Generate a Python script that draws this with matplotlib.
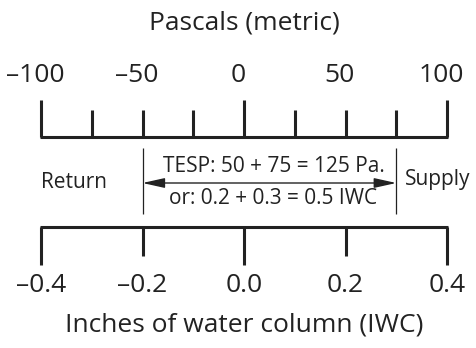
import matplotlib
matplotlib.use("Agg")
import matplotlib.pyplot as plt

# Pascal scale (top)
pa_ticks = [-100, -75, -50, -25, 0, 25, 50, 75, 100]
pa_major = [-100, 0, 100]
pa_labels = [-100, -50, 0, 50, 100]

# IWC scale (bottom)
iwc_ticks = [-0.4, -0.2, 0.0, 0.2, 0.4]
iwc_major = [-0.4, 0.0, 0.4]

# static pressure readings
return_pa = -50
supply_pa = 75
PA_PER_IWC = 250

plt.rcParams['font.family'] = ['Open Sans', 'DejaVu Sans']

fig = plt.figure(figsize=(4.77, 3.48), dpi=100)
ax = fig.add_axes([0, 0, 1, 1])
ax.set_xlim(-244 / 2.03, (477 - 244) / 2.03)
ax.set_ylim(348, 0)
ax.axis('off')

lw = 2.2
col = '#222222'
big = 19
small = 15

def fmt(v):
    s = f'{abs(v):g}' if isinstance(v, int) else f'{abs(v):.1f}'
    return ('\u2013' + s) if v < 0 else s

# top scale
ax.hlines(137, pa_ticks[0] - 0.5, pa_ticks[-1] + 0.5, color=col, lw=lw)
for t in pa_ticks:
    top = 100 if t in pa_major else 110
    ax.vlines(t, top, 137, color=col, lw=lw)
for t in pa_labels:
    ax.text(t - 3, 75, fmt(t), ha='center', va='center', fontsize=big, color=col)
ax.text(0, 23, 'Pascals (metric)', ha='center', va='center', fontsize=big, color=col)

# bottom scale
iwc_pa = [v * PA_PER_IWC for v in iwc_ticks]
ax.hlines(227, iwc_pa[0] - 0.5, iwc_pa[-1] + 0.5, color=col, lw=lw)
for v, x in zip(iwc_ticks, iwc_pa):
    bot = 265 if v in iwc_major else 256
    ax.vlines(x, 227, bot, color=col, lw=lw)
    ax.text(x, 285, fmt(v), ha='center', va='center', fontsize=big, color=col)
ax.text(0, 325, 'Inches of water column (IWC)', ha='center', va='center',
        fontsize=big, color=col)

# TESP bracket
ax.vlines([return_pa, supply_pa], 148, 214, color=col, lw=0.9)
ax.annotate('', xy=(return_pa, 183), xytext=(supply_pa, 183),
            arrowprops=dict(arrowstyle='<|-|>,head_length=0.9,head_width=0.2',
                            color=col, lw=1.0, mutation_scale=15,
                            shrinkA=0, shrinkB=0))
mid = (return_pa + supply_pa) / 2
total_pa = supply_pa - return_pa
ax.text(mid + 2, 166, f'TESP: {abs(return_pa)} + {supply_pa} = {total_pa} Pa.',
        ha='center', va='center', fontsize=small, color=col)
ax.text(mid + 2, 199,
        f'or: {abs(return_pa) / PA_PER_IWC:.1f} + {supply_pa / PA_PER_IWC:.1f} = '
        f'{total_pa / PA_PER_IWC:.1f} IWC',
        ha='center', va='center', fontsize=small, color=col)
ax.text(-83.5, 183, 'Return', ha='center', va='center', fontsize=small, color=col)
ax.text(79.5, 180, 'Supply', ha='left', va='center', fontsize=small, color=col)

fig.savefig('out.png', dpi=100)
